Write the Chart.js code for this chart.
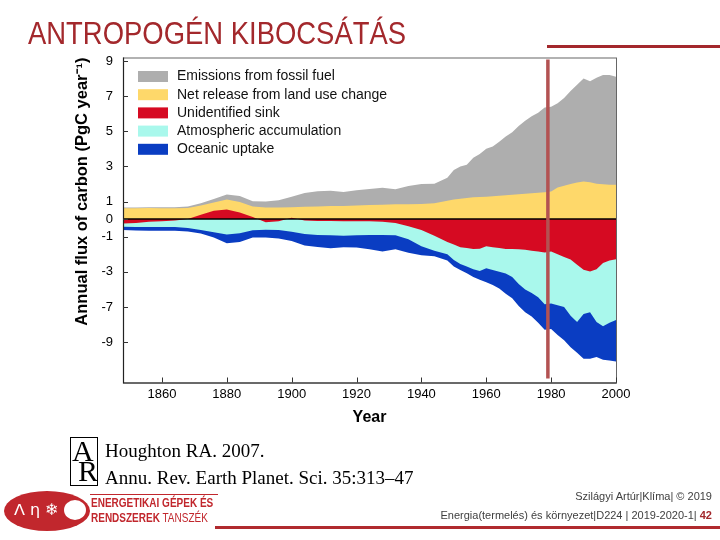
<!DOCTYPE html>
<html><head><meta charset="utf-8">
<script src="https://cdn.jsdelivr.net/npm/chart.js@4.4.0/dist/chart.umd.min.js"></script>
<style>
html,body{margin:0;padding:0;background:#fff;}
body{width:720px;height:540px;overflow:hidden;position:relative;font-family:"Liberation Sans",Arial,sans-serif;}
#chartBox{position:absolute;left:0;top:0;width:720px;height:540px;}
.abs{position:absolute;white-space:nowrap;}
#slideTitle{left:28px;top:16px;font-family:"Liberation Sans",sans-serif;font-size:31px;color:#a3282c;transform:scaleX(0.885);transform-origin:0 0;}
#topLine{left:547px;top:45px;width:173px;height:3px;background:#a3282c;}
#arLogo{left:70px;top:437px;width:26px;height:47px;border:1px solid #000;font-family:"Liberation Serif",serif;}
#arLogo span{position:absolute;font-size:30px;line-height:30px;}
.cite{font-family:"Liberation Serif",serif;font-size:19px;color:#000;left:105px;}
#bottomLine{left:215px;top:526px;width:505px;height:3px;background:#b02a2e;}
#logoEllipse{left:4px;top:491px;width:86px;height:40px;border-radius:50%;background:#c1272d;}
#logoHole{left:64px;top:500px;width:22px;height:20px;border-radius:50%;background:#fff;}
#logoIcons{left:14px;top:500px;color:#fff;font-family:"DejaVu Sans",sans-serif;font-size:16px;}
#logoLine{left:90px;top:494px;width:128px;height:1px;background:#c1272d;}
.logoTxt{left:91px;font-family:"Liberation Sans",sans-serif;font-size:12.5px;color:#c1272d;transform:scaleX(0.8);transform-origin:0 0;}
.foot{right:8px;font-family:"Liberation Sans",sans-serif;font-size:11px;color:#404040;}
</style>
</head>
<body>
<div id="chartBox"><canvas id="c" width="720" height="540"></canvas></div>
<div id="slideTitle" class="abs">ANTROPOGÉN KIBOCSÁTÁS</div>
<div id="topLine" class="abs"></div>
<div id="arLogo" class="abs"><span style="left:1px;top:-2px;">A</span><span style="left:7px;top:18px;">R</span></div>
<div class="abs cite" style="top:440px;">Houghton RA. 2007.</div>
<div class="abs cite" style="top:467px;">Annu. Rev. Earth Planet. Sci. 35:313–47</div>
<div id="logoEllipse" class="abs"></div>
<div id="logoHole" class="abs"></div>
<div id="logoIcons" class="abs">ᐱ η ❄</div>
<div id="logoLine" class="abs"></div>
<div class="abs logoTxt" style="top:496px;font-weight:bold;">ENERGETIKAI GÉPEK ÉS</div>
<div class="abs logoTxt" style="top:511px;"><b>RENDSZEREK</b> TANSZÉK</div>
<div id="bottomLine" class="abs"></div>
<div class="abs foot" style="top:490px;">Szilágyi Artúr|Klíma| © 2019</div>
<div class="abs foot" style="top:509px;">Energia(termelés) és környezet|D224 | 2019-2020-1| <b style="color:#a3282c;">42</b></div>
<script>
// ---- data ----
const years = [1848,1852,1856,1860,1864,1868,1872,1876,1880,1884,1888,1892,1896,1900,1904,1908,1912,1916,1920,1924,1928,1932,1936,1940,1944,1948,1950,1952,1954,1956,1958,1960,1962,1964,1966,1968,1970,1972,1974,1976,1978,1980,1982,1984,1986,1988,1990,1992,1994,1996,1998,2000];
const fossilFuel = [0.04,0.04,0.05,0.05,0.06,0.08,0.12,0.20,0.28,0.34,0.30,0.34,0.42,0.60,0.78,0.86,0.88,0.80,0.86,0.92,0.96,0.86,1.03,1.14,1.12,1.30,1.68,1.84,1.90,2.26,2.44,2.72,2.83,3.07,3.34,3.56,3.88,4.15,4.38,4.55,4.82,4.83,4.80,5.00,5.30,5.57,5.86,5.75,6.03,6.22,6.24,6.15];
const landUse = [0.62,0.62,0.63,0.62,0.62,0.64,0.53,0.47,0.57,0.60,0.60,0.66,0.66,0.60,0.70,0.72,0.74,0.75,0.78,0.80,0.82,0.84,0.85,0.86,0.90,1.05,1.12,1.16,1.20,1.24,1.26,1.28,1.30,1.33,1.36,1.39,1.42,1.45,1.47,1.50,1.53,1.57,1.80,1.90,2.00,2.08,2.14,2.10,2.02,1.98,1.96,1.95];
const unidentifiedSink = [-0.25,-0.22,-0.15,-0.12,-0.08,0.00,0.25,0.48,0.55,0.38,0.12,-0.18,-0.12,0.08,-0.08,-0.10,-0.10,-0.12,-0.12,-0.12,-0.15,-0.22,-0.40,-0.62,-0.95,-1.30,-1.45,-1.60,-1.65,-1.70,-1.68,-1.55,-1.60,-1.65,-1.70,-1.70,-1.72,-1.74,-1.80,-1.85,-1.90,-1.85,-2.00,-2.15,-2.30,-2.60,-2.88,-2.98,-2.85,-2.50,-2.35,-2.28];
const atmosphericAccumulation = [-0.19,-0.23,-0.30,-0.33,-0.37,-0.50,-0.62,-0.75,-0.88,-0.80,-0.63,-0.42,-0.50,-0.72,-0.77,-0.80,-0.82,-0.83,-0.80,-0.78,-0.75,-0.70,-0.75,-0.93,-0.85,-0.70,-0.87,-0.95,-1.05,-1.15,-1.27,-1.25,-1.30,-1.35,-1.40,-1.60,-1.98,-2.26,-2.40,-2.60,-2.95,-2.95,-2.90,-2.85,-3.20,-3.25,-2.52,-2.32,-3.00,-3.60,-3.55,-3.46];
const oceanicUptake = [-0.18,-0.20,-0.21,-0.21,-0.21,-0.20,-0.20,-0.30,-0.50,-0.50,-0.42,-0.45,-0.48,-0.53,-0.65,-0.68,-0.74,-0.65,-0.70,-0.82,-0.94,-0.80,-0.77,-0.50,-0.32,-0.35,-0.38,-0.35,-0.38,-0.45,-0.50,-0.80,-0.85,-0.95,-1.15,-1.20,-1.25,-1.30,-1.35,-1.45,-1.45,-1.45,-1.70,-1.90,-1.80,-1.75,-2.55,-2.65,-2.00,-1.90,-2.15,-2.36];
const seriesNames = ['Emissions from fossil fuel','Net release from land use change','Unidentified sink','Atmospheric accumulation','Oceanic uptake'];
const xTickValues = [1860,1880,1900,1920,1940,1960,1980,2000];
const yTickValues = [9,7,5,3,1,0,-1,-3,-5,-7];
const yTickLabels = ['9','7','5','3','1','0','-1','-3','-7','-9'];
const markerYear = 1979;

// ---- styles ----
const COLORS = {fossil:'#aeaeae', land:'#fed86a', sink:'#d60a22', atmo:'#a9f8ec', ocean:'#0a3dc2'};
const toPts = arr => years.map((y,i)=>({x:y,y:arr[i]}));
const mk = (label, arr, color) => ({label, data: toPts(arr), backgroundColor: color, borderColor: color, borderWidth: 0, pointRadius: 0, tension: 0, fill: 'origin'});

// stacking order: unidentified sink nearest zero, then land use / atmospheric, then fossil / oceanic
const datasets = [
  mk(seriesNames[2], unidentifiedSink, COLORS.sink),
  mk(seriesNames[1], landUse, COLORS.land),
  mk(seriesNames[0], fossilFuel, COLORS.fossil),
  mk(seriesNames[3], atmosphericAccumulation, COLORS.atmo),
  mk(seriesNames[4], oceanicUptake, COLORS.ocean)
];
const legendOrder = [2,1,0,3,4];

const overlay = {
  id: 'overlay',
  afterDatasetsDraw(chart){
    const {ctx, chartArea:a, scales:{x,y}} = chart;
    ctx.save();
    const y0 = y.getPixelForValue(0);
    ctx.strokeStyle = '#000'; ctx.lineWidth = 1.5;
    ctx.beginPath(); ctx.moveTo(a.left, y0); ctx.lineTo(a.right, y0); ctx.stroke();
    const xm = x.getPixelForValue(markerYear);
    ctx.strokeStyle = '#b35252'; ctx.lineWidth = 3.5;
    ctx.beginPath(); ctx.moveTo(xm, a.top + 2); ctx.lineTo(xm, a.bottom - 4); ctx.stroke();
    ctx.lineWidth = 1; ctx.strokeStyle = '#666';
    ctx.strokeRect(a.left + 0.5, a.top + 0.5, a.right - a.left, a.bottom - a.top);
    ctx.strokeStyle = '#222'; ctx.lineWidth = 1.2;
    ctx.beginPath(); ctx.moveTo(a.left + 0.5, a.top); ctx.lineTo(a.left + 0.5, a.bottom + 0.5); ctx.lineTo(a.right + 0.5, a.bottom + 0.5); ctx.stroke();
    ctx.strokeStyle = '#333'; ctx.lineWidth = 1;
    yTickValues.forEach(v => { const p = Math.round(y.getPixelForValue(v)) + 0.5; ctx.beginPath(); ctx.moveTo(a.left, p); ctx.lineTo(a.left + 5, p); ctx.stroke(); });
    xTickValues.forEach(v => { const p = Math.round(x.getPixelForValue(v)) + 0.5; ctx.beginPath(); ctx.moveTo(p, a.bottom); ctx.lineTo(p, a.bottom - 5); ctx.stroke(); });
    ctx.font = '14px "Liberation Sans", Arial, sans-serif';
    ctx.textBaseline = 'middle'; ctx.textAlign = 'left';
    legendOrder.forEach((di, i) => {
      const ds = chart.data.datasets[di];
      const cy = a.top + 19 + i * 18.2;
      ctx.fillStyle = ds.backgroundColor;
      ctx.fillRect(a.left + 15, cy - 5.5, 30, 11);
      ctx.fillStyle = '#111';
      ctx.fillText(ds.label, a.left + 54, cy);
    });
    ctx.restore();
  }
};

new Chart(document.getElementById('c'), {
  type: 'line',
  data: { datasets },
  options: {
    responsive: false,
    animation: false,
    events: [],
    layout: { padding: { left: 69, top: 57.5, right: 104, bottom: 107.5 } },
    plugins: { legend: { display: false }, tooltip: { enabled: false } },
    scales: {
      x: {
        type: 'linear', min: 1848, max: 2000,
        grid: { display: false, drawTicks: false },
        border: { display: false },
        afterBuildTicks: s => { s.ticks = xTickValues.map(v => ({value: v})); },
        afterFit: s => { s.height = 50; },
        ticks: { padding: 4, maxRotation: 0, color: '#000', font: { size: 13, family: '"Liberation Sans", Arial, sans-serif' }, callback: v => String(v) },
        title: { display: true, text: 'Year', color: '#000', padding: { top: 0, bottom: 5 }, font: { size: 16, weight: 'bold', family: '"Liberation Sans", Arial, sans-serif' } }
      },
      y: {
        stacked: true, min: -9.3, max: 9.2,
        grid: { display: false, drawTicks: false },
        border: { display: false },
        afterBuildTicks: s => { s.ticks = yTickValues.map(v => ({value: v})); },
        afterFit: s => { s.width = 54; },
        ticks: { padding: 10, color: '#000', font: { size: 13, family: '"Liberation Sans", Arial, sans-serif' },
          callback: v => { const i = yTickValues.indexOf(v); return i >= 0 ? yTickLabels[i] : ''; } },
        title: { display: true, text: 'Annual flux of carbon (PgC year⁻¹)', align: 'end', color: '#000', padding: { top: 4, bottom: 0 }, font: { size: 16.5, weight: 'bold', family: '"Liberation Sans", Arial, sans-serif' } }
      }
    }
  },
  plugins: [overlay]
});
</script>
</body></html>
